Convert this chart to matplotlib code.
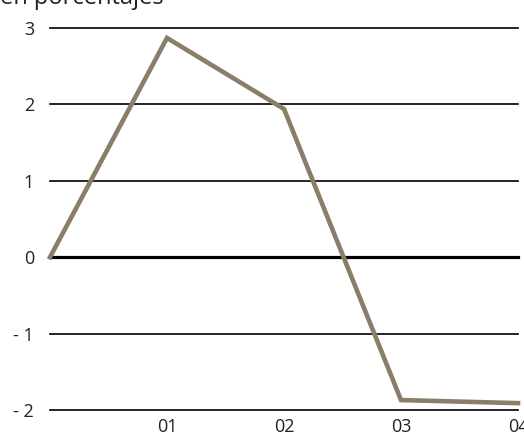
import matplotlib
matplotlib.use("Agg")
import matplotlib.pyplot as plt

plt.rcParams['font.family'] = ['Open Sans', 'DejaVu Sans']

# data
periods = [0, 1, 2, 3, 4]
period_labels = ["", "01", "02", "03", "04"]
values = [0.0, 2.87, 1.94, -1.87, -1.91]
y_ticks = [-2, -1, 0, 1, 2, 3]
y_labels = ["- 2", "- 1", "0", "1", "2", "3"]

fig = plt.figure(figsize=(5.24, 4.37), dpi=100)
ax = fig.add_axes([50 / 524, 27 / 437, 468 / 524, 382 / 437])

# horizontal grid lines
for t in y_ticks:
    lw = 2.3 if t == 0 else 1.2
    ax.axhline(t, color="black", lw=lw, zorder=1, clip_on=False)

ax.plot(periods, values, color="#8a7d69", lw=3.3, zorder=3,
        solid_joinstyle="miter", clip_on=False)

ax.set_xlim(0, 4)
ax.set_ylim(-2, 3)
ax.set_xticks(periods[1:])
ax.set_xticklabels(period_labels[1:])
ax.set_yticks(y_ticks)
ax.set_yticklabels(y_labels)
ax.tick_params(axis="both", length=0, labelsize=13, colors="#222222")
ax.tick_params(axis="y", pad=11.5)
ax.tick_params(axis="x", pad=6)
for s in ax.spines.values():
    s.set_visible(False)

fig.text(0.0, 1 - 4 / 437, "en porcentajes", fontsize=17, color="#222222",
         ha="left", va="baseline")

fig.savefig("out.png", dpi=100)
